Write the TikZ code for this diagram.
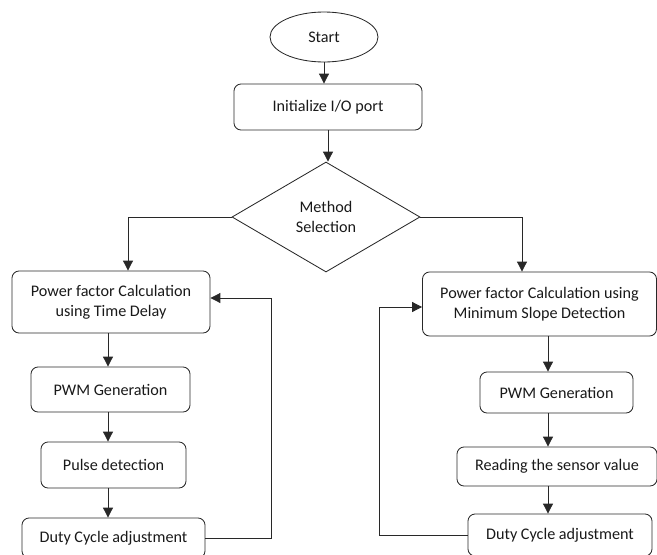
\documentclass[tikz,border=0pt]{standalone}
\usepackage{fontspec}
\setmainfont{Carlito}
\usepackage{tikz}
\usetikzlibrary{arrows.meta,positioning,calc,shapes.geometric}
\definecolor{flowline}{RGB}{40,40,40}

\begin{document}
\begin{tikzpicture}[every node/.style={font=\fontsize{11.5}{14.2}\selectfont,align=center,text=black!90},
  procbox/.style={draw=flowline,rounded corners=5pt,line width=0.6pt,inner sep=1pt},
  arr/.style={-{Triangle[length=7pt,width=7pt]},draw=flowline,line width=0.6pt},
  lin/.style={draw=flowline,line width=0.6pt}]
  \useasboundingbox (0,0) rectangle (16.425,-13.85);
  % main chain
  \node[draw=flowline,ellipse,line width=0.6pt,minimum width=2.7cm,minimum height=1.25cm] (start) at (8.1,-0.925) {Start};
  \node[procbox,minimum width=4.7cm,minimum height=1.15cm] (init) at (8.2,-2.675) {Initialize I/O port};
  \node[draw=flowline,diamond,line width=0.6pt,inner sep=0pt,minimum width=4.7cm,minimum height=2.75cm] (sel) at (8.15,-5.425) {Method\\Selection};
  % left branch
  \node[procbox,minimum width=4.95cm,minimum height=1.55cm] (tdcalc) at (2.775,-7.55) {Power factor Calculation\\using Time Delay};
  \node[procbox,minimum width=3.975cm,minimum height=1.125cm] (tdpwm) at (2.7625,-9.7375) {PWM Generation};
  \node[procbox,minimum width=3.625cm,minimum height=1.15cm] (tdpulse) at (2.8375,-11.625) {Pulse detection};
  \node[procbox,minimum width=4.575cm,minimum height=1.0cm] (tdduty) at (2.8375,-13.45) {Duty Cycle adjustment};
  % right branch
  \node[procbox,minimum width=5.85cm,minimum height=1.6cm] (mscalc) at (13.4875,-7.6) {Power factor Calculation using\\Minimum Slope Detection};
  \node[procbox,minimum width=3.825cm,minimum height=1.025cm] (mspwm) at (13.9125,-9.8125) {PWM Generation};
  \node[procbox,minimum width=5.0cm,minimum height=0.975cm] (msread) at (13.925,-11.6625) {Reading the sensor value};
  \node[procbox,minimum width=4.6cm,minimum height=1.05cm] (msduty) at (14.0,-13.375) {Duty Cycle adjustment};
  % arrow columns
  \coordinate (lx) at (2.7,0);
  \coordinate (rx) at (13.7,0);
  \coordinate (lbr) at (3.2,0);
  \coordinate (rbr) at (13.05,0);

  \draw[arr] (start) -- (start |- init.north);
  \draw[arr] (init) -- (init |- sel.north);
  \draw[arr] (sel.west) -| (lbr |- tdcalc.north);
  \draw[arr] (sel.east) -| (rbr |- mscalc.north);

  \draw[arr] (lx |- tdcalc.south) -- (lx |- tdpwm.north);
  \draw[arr] (lx |- tdpwm.south) -- (lx |- tdpulse.north);
  \draw[arr] (lx |- tdpulse.south) -- (lx |- tdduty.north);
  \draw[arr] (rx |- mscalc.south) -- (rx |- mspwm.north);
  \draw[arr] (rx |- mspwm.south) -- (rx |- msread.north);
  \draw[arr] (rx |- msread.south) -- (rx |- msduty.north);

  % feedback loops
  \draw[arr] (tdduty.east) -- ++(1.65,0) |- ([yshift=0.1cm]tdcalc.east);
  \draw[arr] (msduty.west) -- ++(-2.2,0) |- ([yshift=-0.075cm]mscalc.west);
\end{tikzpicture}
\end{document}
